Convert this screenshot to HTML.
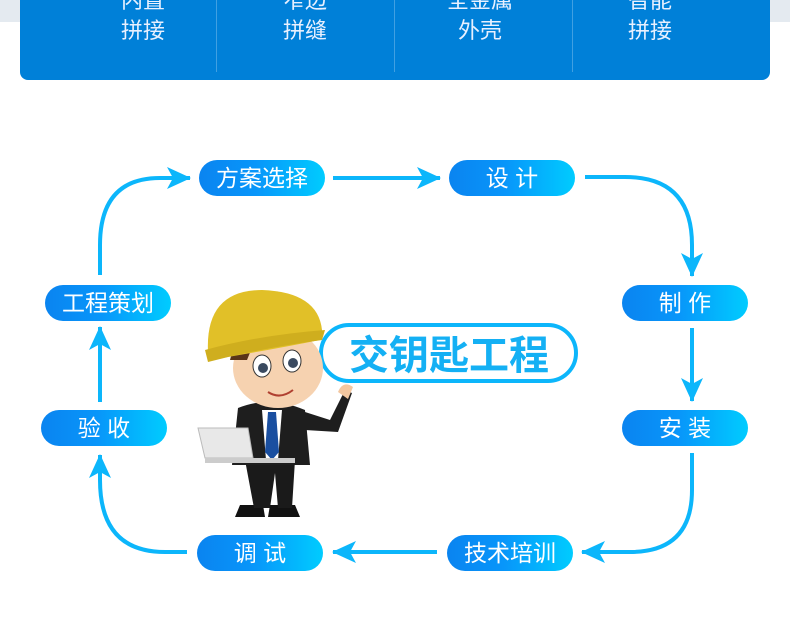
<!DOCTYPE html>
<html><head><meta charset="utf-8"><style>
body{margin:0;width:790px;height:628px;background:#fff;overflow:hidden;font-family:"Liberation Sans","Noto Sans CJK SC",sans-serif;position:relative}
.bar{position:absolute;left:20px;top:-10px;width:750px;height:90px;background:#0080d8;border-radius:0 0 8px 8px}
.col{position:absolute;top:0;width:100px;text-align:center;color:#e8f0ff;font-size:22px;line-height:30px}
.sep{position:absolute;top:0;width:1px;height:72px;background:rgba(255,255,255,.25)}
</style></head><body>
<div style="position:absolute;left:0;top:0;width:20px;height:22px;background:#e4eaf0"></div>
<div style="position:absolute;right:0;top:0;width:20px;height:22px;background:#e4eaf0"></div>
<div class="bar"></div>
<div class="col" style="left:93px;top:-14px">内置<br>拼接</div>
<div class="col" style="left:255px;top:-14px">窄边<br>拼缝</div>
<div class="col" style="left:430px;top:-14px">全金属<br>外壳</div>
<div class="col" style="left:600px;top:-14px">智能<br>拼接</div>
<div class="sep" style="left:216px"></div><div class="sep" style="left:394px"></div><div class="sep" style="left:572px"></div>
<svg width="790" height="628" style="position:absolute;left:0;top:0">
<defs><linearGradient id="g" x1="0" x2="1"><stop offset="0" stop-color="#0a84f0"/><stop offset="0.45" stop-color="#0896fa"/><stop offset="1" stop-color="#00ccff"/></linearGradient>
<marker id="a" viewBox="0 0 24 22" markerWidth="24" markerHeight="22" refX="23" refY="11" orient="auto" markerUnits="userSpaceOnUse"><path d="M0,0 L24,11 L0,22 L6,11 Z" fill="#0cb6fb"/></marker></defs>
<g fill="none" stroke="#0cb6fb" stroke-width="4" marker-end="url(#a)">
<path d="M333,178 H440"/>
<path d="M585,177 H625 Q692,177 692,245 V276"/>
<path d="M692,328 V401"/>
<path d="M692,453 V490 Q692,552 630,552 H582"/>
<path d="M437,552 H333"/>
<path d="M187,552 H165 Q100,552 100,480 V455"/>
<path d="M100,402 V327"/>
<path d="M100,275 V245 Q100,178 160,178 H190"/>
</g>
<g font-size="23" fill="#fff" text-anchor="middle">
<rect x="199" y="160" width="126" height="36" rx="18" fill="url(#g)"/><text x="262" y="186">方案选择</text>
<rect x="449" y="160" width="126" height="36" rx="18" fill="url(#g)"/><text x="512" y="186">设 计</text>
<rect x="622" y="285" width="126" height="36" rx="18" fill="url(#g)"/><text x="685" y="311">制 作</text>
<rect x="622" y="410" width="126" height="36" rx="18" fill="url(#g)"/><text x="685" y="436">安 装</text>
<rect x="447" y="535" width="126" height="36" rx="18" fill="url(#g)"/><text x="510" y="561">技术培训</text>
<rect x="197" y="535" width="126" height="36" rx="18" fill="url(#g)"/><text x="260" y="561">调 试</text>
<rect x="41" y="410" width="126" height="36" rx="18" fill="url(#g)"/><text x="104" y="436">验 收</text>
<rect x="45" y="285" width="126" height="36" rx="18" fill="url(#g)"/><text x="108" y="311">工程策划</text>
</g>
<rect x="321" y="325" width="255" height="56" rx="28" fill="#fff" stroke="#0cb6fb" stroke-width="4"/>
<text x="449" y="369" font-size="40" font-weight="bold" fill="#14b0f4" text-anchor="middle">交钥匙工程</text>
<path d="M240,505 l-5,12 h30 l-2,-12z M270,505 l-2,12 h32 l-5,-12z" fill="#111"/>
<path d="M245,460 h50 l-3,48 h-14 l-3,-35 l-5,35 h-16z" fill="#1a1a1a"/>
<path d="M238,408 Q270,395 305,410 L310,465 H232z" fill="#1e1e1e"/>
<path d="M262,410 h20 l-4,50 h-12z" fill="#fff"/>
<path d="M268,412 h8 l3,40 l-7,8 l-7,-8z" fill="#1a4fa0"/>
<path d="M305,412 L330,420 L345,390 L352,393 L338,432 L305,430z" fill="#1e1e1e"/>
<path d="M338,392 q5,-12 15,-5 l-5,12z" fill="#f3c7a0"/>
<ellipse cx="278" cy="368" rx="45" ry="40" fill="#f6d2b0"/>
<path d="M230,360 q5,-25 25,-20 l-8,20 z" fill="#5a3418"/>
<ellipse cx="262" cy="366" rx="9" ry="11" fill="#fff" stroke="#333"/><circle cx="263" cy="368" r="5" fill="#3a4a60"/>
<ellipse cx="292" cy="361" rx="9" ry="11" fill="#fff" stroke="#333"/><circle cx="293" cy="363" r="5" fill="#3a4a60"/>
<path d="M268,392 q12,8 25,-2" stroke="#b04030" stroke-width="2" fill="none"/>
<path d="M208,352 Q205,290 262,290 Q318,292 322,330 L320,340 Q270,350 210,360z" fill="#e1c028"/>
<path d="M205,350 Q260,335 325,330 L322,340 Q262,348 208,362z" fill="#cfae1e"/>
<path d="M198,428 h50 l5,30 h-48z" fill="#e8e8e8" stroke="#bbb"/>
<path d="M205,458 h90 v5 h-90z" fill="#ccc"/>
</svg>
</body></html>
